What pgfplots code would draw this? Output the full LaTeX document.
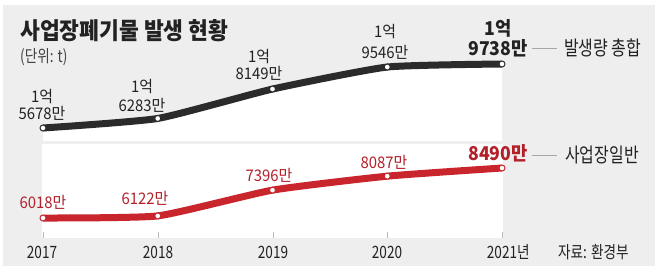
\documentclass[border=0pt]{standalone}
\usepackage{graphicx}
\usepackage{pgfplots}
\pgfplotsset{compat=1.18}
\usepackage{fontspec}
\setmainfont{Noto Sans CJK KR}
\newfontfamily\nar[FakeStretch=0.8]{Noto Sans CJK KR}
\newfontfamily\ttl{Noto Sans CJK KR}
\newfontfamily\lab[FakeStretch=0.93]{Noto Sans CJK KR}
\definecolor{bg}{HTML}{EEEEEE}
\definecolor{blk}{HTML}{2B2B2B}
\definecolor{redl}{HTML}{C9252C}
\definecolor{redt}{HTML}{B3202A}
\definecolor{txt}{HTML}{222222}
\newcommand{\fs}[1]{\fontsize{#1bp}{#1bp}\selectfont}
\begin{document}
\begin{tikzpicture}[x=1bp,y=1bp]
\fill[white] (0,0) rectangle (658,271);
\fill[bg] (3,5) rectangle (655,266);
\fill[white] (42,33) rectangle (503,127);
% tick marks
\foreach \px in {43,158,273,387,502}{
  \draw[gray!55, line width=0.8bp] (\px,33) -- (\px,39);
}
% black series
\begin{axis}[at={(43bp,130bp)}, anchor=south west, scale only axis,
  width=459bp, height=121bp, xmin=2017, xmax=2021, ymin=14853, ymax=22530,
  axis lines=none, clip=false]
\addplot[fill=white, draw=none] coordinates {(2017,14853) (2017,15678) (2018,16283) (2019,18149) (2020,19546) (2021,19738) (2021,14853)} -- cycle;
\addplot[blk, line width=7bp, smooth, tension=0.3, mark=*, mark size=3bp,
  mark options={fill=white, draw=blk, line width=1bp}]
  coordinates {(2017,15678) (2018,16283) (2019,18149) (2020,19546) (2021,19738)};
\end{axis}
% red series
\begin{axis}[at={(43bp,33bp)}, anchor=south west, scale only axis,
  width=459bp, height=94bp, xmin=2017, xmax=2021, ymin=5029, ymax=9677,
  axis lines=none, clip=false]
\addplot[redl, line width=7bp, smooth, tension=0.3, mark=*, mark size=3bp,
  mark options={fill=white, draw=redl, line width=1bp}]
  coordinates {(2017,6018) (2018,6122) (2019,7396) (2020,8087) (2021,8490)};
\end{axis}
% title
\node[anchor=west, txt, inner sep=0] at (20,240) {\resizebox{208bp}{20bp}{\ttl\fs{24}\bfseries 사업장폐기물 발생 현황}};
\node[anchor=west, txt!85, inner sep=0] at (20,214) {\nar\fs{17}(단위: t)};
% black labels
\begin{scope}[txt, inner sep=0]
\node at (42,174) {\lab\fs{16}1억};
\node at (42,158) {\lab\fs{16}5678만};
\node at (142,184) {\lab\fs{16}1억};
\node at (142,166) {\lab\fs{16}6283만};
\node at (259,214) {\lab\fs{16}1억};
\node at (259,198) {\lab\fs{16}8149만};
\node at (385,239) {\lab\fs{16}1억};
\node at (385,219) {\lab\fs{16}9546만};
\node at (498,243) {\lab\fs{19}\bfseries 1억};
\node at (498,223) {\lab\fs{19}\bfseries 9738만};
\end{scope}
% red labels
\begin{scope}[redt, inner sep=0]
\node at (43,69) {\lab\fs{16}6018만};
\node at (145,73) {\lab\fs{16}6122만};
\node at (269,96) {\lab\fs{16}7396만};
\node at (384,109) {\lab\fs{16}8087만};
\node at (498,118) {\lab\fs{19}\bfseries 8490만};
\end{scope}
% series annotations
\draw[gray!70, line width=0.8bp] (532,223) -- (557,223);
\node[anchor=west, txt, inner sep=0] at (564,223) {\nar\fs{20}발생량 총합};
\draw[gray!70, line width=0.8bp] (532,116) -- (557,116);
\node[anchor=west, txt, inner sep=0] at (565,116) {\nar\fs{20}사업장일반};
% x labels
\begin{scope}[txt, inner sep=0]
\node at (42,19) {\nar\fs{17}2017};
\node at (158,19) {\nar\fs{17}2018};
\node at (273,19) {\nar\fs{17}2019};
\node at (387,19) {\nar\fs{17}2020};
\node at (502,19) {\nar\fs{17}2021\rlap{년}};
\node[anchor=west] at (558,19) {\nar\fs{17}자료: 환경부};
\end{scope}
\end{tikzpicture}
\end{document}
